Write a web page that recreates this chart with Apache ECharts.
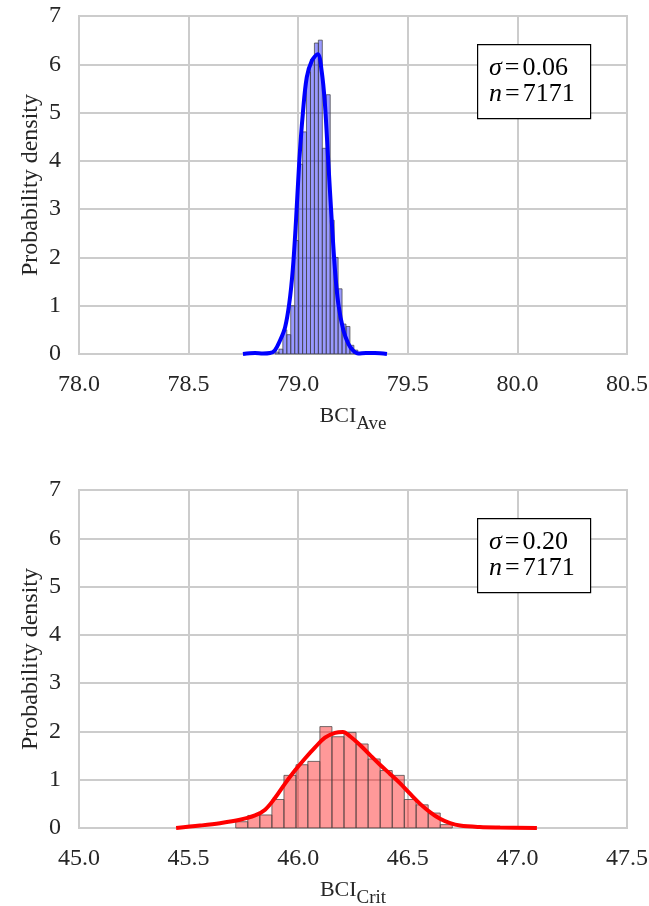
<!DOCTYPE html>
<html>
<head>
<meta charset="utf-8">
<script src="https://cdn.jsdelivr.net/npm/echarts@6/dist/echarts.min.js"></script>
<style>
  html, body { margin: 0; padding: 0; background: #ffffff; }
  #chart { width: 649px; height: 906px; }
</style>
</head>
<body>
<div id="chart"></div>
<script>
// ---- BCI_Ave histogram (bin edges + density per bin) ----
const aveBinEdges = [78.894, 78.912, 78.930, 78.948, 78.966, 78.984, 79.002, 79.020, 79.038, 79.056,
  79.074, 79.092, 79.110, 79.128, 79.146, 79.164, 79.182, 79.200, 79.218, 79.236, 79.254, 79.272, 79.290];
const aveDensity = [0.04, 0.10, 0.50, 0.40, 1.00, 2.35, 3.93, 4.60, 5.84, 6.10, 6.44,
  6.50, 4.26, 5.37, 2.77, 2.00, 1.35, 0.62, 0.57, 0.18, 0.08, 0.03];
// KDE curve for BCI_Ave
const aveKdeX = [78.748, 78.803, 78.839, 78.871, 78.894, 78.917, 78.940, 78.959, 78.975, 78.990,
  79.005, 79.021, 79.039, 79.062, 79.089, 79.107, 79.122, 79.137, 79.153, 79.168, 79.183,
  79.206, 79.229, 79.251, 79.274, 79.309, 79.350, 79.405];
const aveKdeY = [0.00, 0.02, 0.01, 0.02, 0.08, 0.28, 0.55, 1.04, 1.73, 2.76,
  4.00, 4.97, 5.73, 6.07, 6.21, 5.86, 5.17, 4.00, 2.76, 1.73, 1.04,
  0.49, 0.21, 0.07, 0.01, 0.02, 0.02, 0.00];

// ---- BCI_Crit histogram ----
const critBinEdges = [45.715, 45.770, 45.825, 45.880, 45.935, 45.990, 46.044, 46.099, 46.154, 46.209,
  46.264, 46.319, 46.374, 46.429, 46.484, 46.538, 46.593, 46.648, 46.703];
const critDensity = [0.13, 0.26, 0.27, 0.59, 1.09, 1.31, 1.38, 2.10, 1.89, 1.98,
  1.74, 1.43, 1.19, 1.09, 0.59, 0.48, 0.31, 0.07];
const critKdeX = [45.443, 45.552, 45.643, 45.734, 45.803, 45.849, 45.894, 45.940, 45.985, 46.031,
  46.077, 46.122, 46.168, 46.204, 46.236, 46.282, 46.328, 46.373, 46.419, 46.464,
  46.510, 46.556, 46.601, 46.647, 46.693, 46.738, 46.829, 46.921, 47.089];
const critKdeY = [0.00, 0.05, 0.10, 0.17, 0.26, 0.38, 0.62, 0.92, 1.19, 1.44,
  1.67, 1.87, 1.97, 1.99, 1.90, 1.72, 1.51, 1.31, 1.12, 0.93,
  0.71, 0.50, 0.33, 0.19, 0.10, 0.05, 0.02, 0.01, 0.00];

// ---- axis ranges, ticks and annotations ----
const aveRange = [78.0, 80.5];
const critRange = [45.0, 47.5];
const xTickStep = 0.5;
const densityRange = [0, 7];
const densityStep = 1;
const aveStats = { sigma: '0.06', n: '7171' };
const critStats = { sigma: '0.20', n: '7171' };

function histData(edges, dens) {
  return dens.map((d, i) => [edges[i], edges[i + 1], d]);
}
function zip(xs, ys) { return xs.map((x, i) => [x, ys[i]]); }

function histRenderer(fill) {
  return function (params, api) {
    const x0 = api.value(0), x1 = api.value(1), h = api.value(2);
    const pTop = api.coord([x0, h]);
    const pBot = api.coord([x1, 0]);
    return {
      type: 'rect',
      shape: { x: pTop[0], y: pTop[1], width: pBot[0] - pTop[0], height: pBot[1] - pTop[1] },
      style: { fill: fill, stroke: 'rgba(70,70,70,0.75)', lineWidth: 1 }
    };
  };
}

const textColor = '#262626';
const gridColor = '#cccccc';
const serif = '"Liberation Serif", "DejaVu Serif", serif';

function xAxisFor(idx, range, sub) {
  return {
    type: 'value', gridIndex: idx, min: range[0], max: range[1], interval: xTickStep,
    axisLine: { show: false }, axisTick: { show: false },
    splitLine: { show: true, lineStyle: { color: gridColor, width: 2 } },
    axisLabel: { color: textColor, fontFamily: serif, fontSize: 24, margin: 19,
      formatter: v => v.toFixed(1) },
    name: '{b|BCI}{s|' + sub + '}',
    nameLocation: 'middle', nameGap: 47,
    nameTextStyle: {
      rich: {
        b: { fontFamily: serif, fontSize: 22, color: textColor, verticalAlign: 'bottom', lineHeight: 26 },
        s: { fontFamily: serif, fontSize: 19, color: textColor, verticalAlign: 'bottom', lineHeight: 26, padding: [0, 0, -7, 0] }
      }
    }
  };
}
function yAxisFor(idx) {
  return {
    type: 'value', gridIndex: idx, min: densityRange[0], max: densityRange[1], interval: densityStep,
    axisLine: { show: false }, axisTick: { show: false },
    splitLine: { show: true, lineStyle: { color: gridColor, width: 2 } },
    axisLabel: { color: textColor, fontFamily: serif, fontSize: 24, margin: 18 },
    name: 'Probability density', nameLocation: 'middle', nameGap: 36, nameMoveOverlap: false,
    nameTextStyle: { color: textColor, fontFamily: serif, fontSize: 24 }
  };
}

function statsBox(top, stats) {
  const rich = {
    i: { fontFamily: serif, fontStyle: 'italic', fontSize: 26, fill: '#000', lineHeight: 26 },
    e: { fontFamily: serif, fontSize: 26, fill: '#000', lineHeight: 26, padding: [0, 3, 0, 3] },
    t: { fontFamily: serif, fontSize: 26, fill: '#000', lineHeight: 26 }
  };
  return [
    { type: 'rect', left: 477, top: top, z: 100,
      shape: { width: 113, height: 74 },
      style: { fill: '#ffffff', stroke: '#000000', lineWidth: 1.2 } },
    { type: 'text', left: 489, top: top + 11, z: 101,
      style: {
        text: '{i|σ}{e|=}{t|' + stats.sigma + '}\n{i|n}{e|=}{t|' + stats.n + '}',
        rich: rich
      } }
  ];
}

const chart = echarts.init(document.getElementById('chart'), null, { renderer: 'canvas' });
chart.setOption({
  animation: false,
  backgroundColor: '#ffffff',
  grid: [
    { left: 79, right: 22, top: 16, height: 338, show: true, borderColor: gridColor, borderWidth: 2,
      backgroundColor: 'transparent', outerBoundsMode: 'none' },
    { left: 79, right: 22, top: 490, height: 338, show: true, borderColor: gridColor, borderWidth: 2,
      backgroundColor: 'transparent', outerBoundsMode: 'none' }
  ],
  xAxis: [xAxisFor(0, aveRange, 'Ave'), xAxisFor(1, critRange, 'Crit')],
  yAxis: [yAxisFor(0), yAxisFor(1)],
  series: [
    { type: 'custom', xAxisIndex: 0, yAxisIndex: 0, renderItem: histRenderer('rgba(0,0,255,0.4)'),
      encode: { x: [0, 1], y: 2 }, data: histData(aveBinEdges, aveDensity), z: 2 },
    { type: 'line', xAxisIndex: 0, yAxisIndex: 0, data: zip(aveKdeX, aveKdeY), smooth: 0.35,
      showSymbol: false, lineStyle: { color: '#0000ff', width: 4 }, z: 3 },
    { type: 'custom', xAxisIndex: 1, yAxisIndex: 1, renderItem: histRenderer('rgba(255,0,0,0.4)'),
      encode: { x: [0, 1], y: 2 }, data: histData(critBinEdges, critDensity), z: 2 },
    { type: 'line', xAxisIndex: 1, yAxisIndex: 1, data: zip(critKdeX, critKdeY), smooth: 0.35,
      showSymbol: false, lineStyle: { color: '#ff0000', width: 4 }, z: 3 }
  ],
  graphic: statsBox(44, aveStats).concat(statsBox(518, critStats))
});
</script>
</body>
</html>
